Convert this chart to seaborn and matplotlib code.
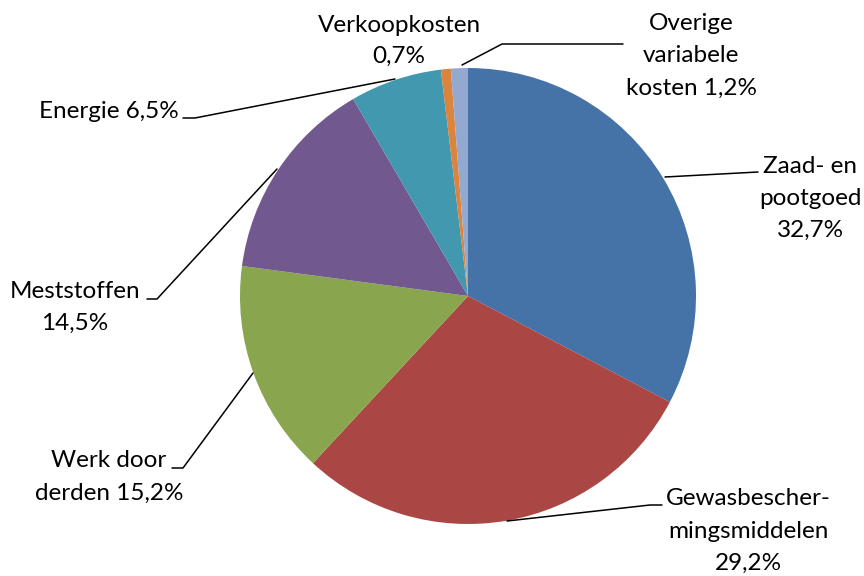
import matplotlib
matplotlib.use("Agg")
import matplotlib.pyplot as plt
import seaborn as sns

categories = ["Zaad- en pootgoed", "Gewasbeschermingsmiddelen", "Werk door derden",
              "Meststoffen", "Energie", "Verkoopkosten", "Overige variabele kosten"]
shares = [32.7, 29.2, 15.2, 14.5, 6.5, 0.7, 1.2]
label_lines = [
    ["Zaad- en", "pootgoed", "32,7%"],
    ["Gewasbescher-", "mingsmiddelen", "29,2%"],
    ["Werk door", "derden 15,2%"],
    ["Meststoffen", "14,5%"],
    ["Energie 6,5%"],
    ["Verkoopkosten", "0,7%"],
    ["Overige", "variabele", "kosten 1,2%"],
]
colors = ["#4572A7", "#AA4643", "#89A54E", "#71588F", "#4198AF", "#DB843D", "#93A9CF"]

sns.set_theme(style="white")
plt.rcParams['font.family'] = ['Lato', 'DejaVu Sans']

W, H = 864, 576
fig = plt.figure(figsize=(8.64, 5.76), dpi=100)
ax = fig.add_axes([0, 0, 1, 1])
ax.set_xlim(0, W)
ax.set_ylim(0, H)
ax.set_aspect('equal')
ax.axis('off')

def Y(y):
    return H - y

cx, cy, r = 468, 296, 228
ax.pie(shares, colors=colors, startangle=90, counterclock=False,
       center=(cx, Y(cy)), radius=r, frame=True,
       wedgeprops=dict(linewidth=0))
ax.set_xlim(0, W)
ax.set_ylim(0, H)
ax.axis('off')

# label placement: (x, anchor, first baseline y, line spacing)
placements = [
    (810, 'center', 173, 32),
    (748, 'center', 505, 32.5),
    (109, 'center', 467, 33),
    (75, 'center', 298, 32),
    (179, 'right', 118, 32),
    (399, 'center', 32, 31),
    (691, 'center', 30, 32.5),
]
leaders = [
    [(665, 177), (758, 172)],
    [(507, 521), (650, 505), (662, 505)],
    [(253, 373), (183, 468), (172, 468)],
    [(277, 169), (157, 299), (147, 299)],
    [(395, 79), (195, 118), (183, 118)],
    None,
    [(462, 65), (502, 44), (623, 44)],
]
fs = 17.5
for lines, (x, ha, y0, dy), lead in zip(label_lines, placements, leaders):
    for i, t in enumerate(lines):
        ax.text(x, Y(y0 + i * dy), t, ha=ha, va='baseline', fontsize=fs, color='black')
    if lead:
        ax.plot([p[0] for p in lead], [Y(p[1]) for p in lead], color='black', lw=1.1,
                solid_joinstyle='miter')

fig.savefig("out.png", dpi=100)
